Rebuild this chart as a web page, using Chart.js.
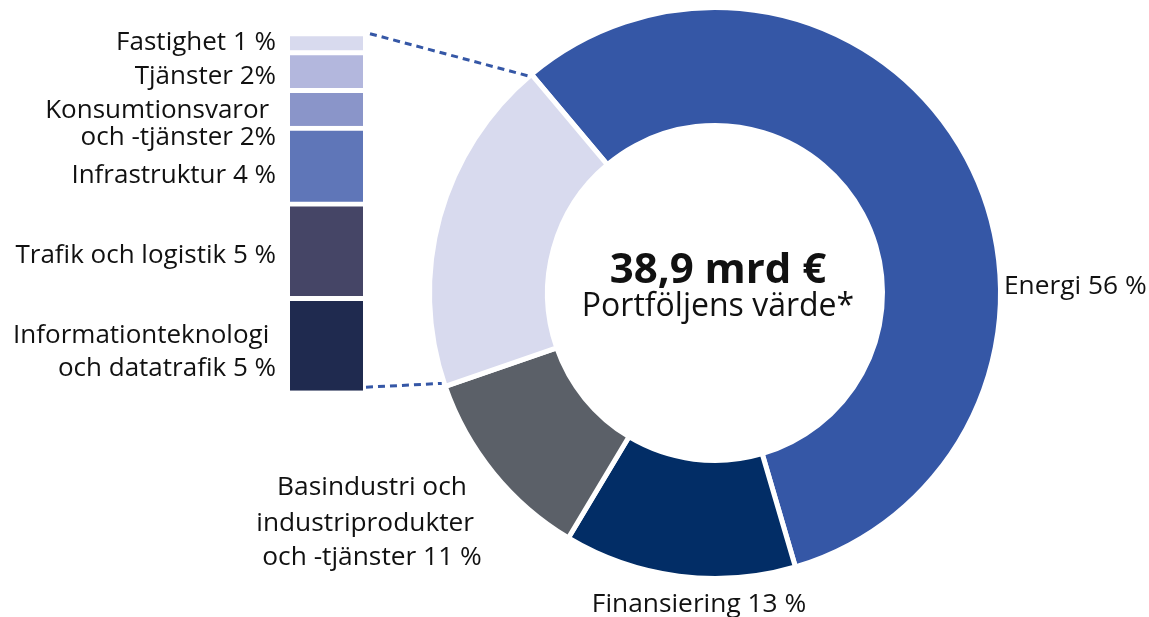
<!DOCTYPE html>
<html><head><meta charset="utf-8">
<script src="https://cdn.jsdelivr.net/npm/chart.js@4.4.1/dist/chart.umd.min.js"></script>
<style>
html,body{margin:0;padding:0;background:#fff;}
#wrap{position:relative;width:1149px;height:617px;overflow:hidden;}
canvas{position:absolute;left:0;top:0;}
</style></head><body>
<div id="wrap"><canvas id="donut" width="1149" height="617"></canvas><canvas id="stack" width="1149" height="617"></canvas></div>
<script>
// ---- data ----
const donutCategories = ['Energi', 'Finansiering', 'Basindustri och industriprodukter och -tjänster', 'Övriga'];
const donutValues = [56, 13, 11, 19];
const donutLabels = [['Energi 56 %'], ['Finansiering 13 %'], ['Basindustri och', 'industriprodukter  ', 'och -tjänster 11 %'], []];

const stackCategories = ['Informationteknologi och datatrafik', 'Trafik och logistik', 'Infrastruktur', 'Konsumtionsvaror och -tjänster', 'Tjänster', 'Fastighet'];
const stackValues = [5, 5, 4, 2, 2, 1];
const stackLabels = [['Informationteknologi ', 'och datatrafik 5 %'], ['Trafik och logistik 5 %'], ['Infrastruktur 4 %'], ['Konsumtionsvaror ', 'och -tjänster 2%'], ['Tjänster 2%'], ['Fastighet 1 %']];

const centerTitle = '38,9 mrd €';
const centerSubtitle = 'Portföljens värde*';

// ---- style ----
const donutColors = ['#3557A6', '#022D66', '#5B6068', '#D8DAEE'];
const stackColors = ['#1F2A4F', '#454566', '#5F76B8', '#8A95C9', '#B3B7DD', '#D8DAEE'];
const stackLabelBaselines = [[-3, 30.5], [11.8], [17], [8, 35.3], [12], [6]];
const FONT = '"Open Sans", "Noto Sans", sans-serif';
const TEXT = '#111';
const LINE = '#3557A6';

const donutText = {
  id: 'donutText',
  afterDatasetsDraw(chart) {
    const ctx = chart.ctx;
    const a0 = chart.getDatasetMeta(0).data[0];
    const cx = a0.x, cy = a0.y, R = a0.outerRadius - 2.5;
    ctx.save();
    ctx.fillStyle = TEXT;
    ctx.textBaseline = 'alphabetic';
    ctx.textAlign = 'center';
    ctx.font = 'bold 42px ' + FONT;
    ctx.fillText(centerTitle, cx + 3, cy - 10.3);
    ctx.font = '32px ' + FONT;
    ctx.fillText(centerSubtitle, cx + 3, cy + 23);
    ctx.font = '26.3px ' + FONT;
    // Energi
    ctx.textAlign = 'left';
    ctx.fillText(donutLabels[0][0], cx + R + 6, cy + 1.3);
    // Finansiering
    ctx.textAlign = 'center';
    ctx.fillText(donutLabels[1][0], cx - 16, cy + 319);
    // Basindustri
    const bl = [202, 237.7, 272];
    donutLabels[2].forEach((t, i) => ctx.fillText(t, cx - 343, cy + bl[i]));
    ctx.restore();
  }
};

const donutChart = new Chart(document.getElementById('donut'), {
  type: 'doughnut',
  data: {
    labels: donutCategories,
    datasets: [{
      data: donutValues,
      backgroundColor: donutColors,
      borderColor: '#ffffff',
      borderWidth: 5,
      hoverOffset: 0
    }]
  },
  options: {
    responsive: false,
    animation: false,
    rotation: -40,
    radius: 285.5,
    cutout: '58.67%',
    layout: { padding: { left: 432, right: 151, top: 10, bottom: 41 } },
    plugins: { legend: { display: false }, tooltip: { enabled: false } }
  },
  plugins: [donutText]
});

const stackText = {
  id: 'stackText',
  afterDatasetsDraw(chart) {
    const ctx = chart.ctx;
    ctx.save();
    ctx.fillStyle = TEXT;
    ctx.font = '26px ' + FONT;
    ctx.textAlign = 'right';
    ctx.textBaseline = 'alphabetic';
    let barLeft = 0, barRight = 0, topY = 0, bottomY = 0;
    stackLabels.forEach((lines, i) => {
      const el = chart.getDatasetMeta(i).data[0];
      const top = el.y + 5, base = el.base;
      const c = (top + base) / 2;
      barLeft = el.x - el.width / 2;
      barRight = el.x + el.width / 2;
      if (i === 0) bottomY = base;
      if (i === stackLabels.length - 1) topY = top;
      lines.forEach((t, j) => ctx.fillText(t, barLeft - 14, c + stackLabelBaselines[i][j]));
    });
    // connector lines to the "other" arc of the doughnut
    const arc = donutChart.getDatasetMeta(0).data[3];
    const R = arc.outerRadius - 2.5;
    const a1 = arc.endAngle - 0.009;
    const p1 = { x: arc.x + (R + 2) * Math.cos(a1), y: arc.y + (R + 2) * Math.sin(a1) };
    const a2 = arc.startAngle + 0.009;
    const c2 = { x: arc.x + R * Math.cos(a2), y: arc.y + R * Math.sin(a2) };
    const s2 = { x: barRight + 3, y: bottomY - 3.5 };
    const dx = s2.x - c2.x, dy = s2.y - c2.y, L = Math.hypot(dx, dy);
    const p2 = { x: c2.x + dx / L * 5, y: c2.y + dy / L * 5 };
    ctx.strokeStyle = LINE;
    ctx.lineWidth = 3;
    ctx.setLineDash([7, 5]);
    ctx.beginPath();
    ctx.moveTo(barRight + 7, topY - 3);
    ctx.lineTo(p1.x, p1.y);
    ctx.moveTo(s2.x, s2.y);
    ctx.lineTo(p2.x, p2.y);
    ctx.stroke();
    ctx.restore();
  }
};

new Chart(document.getElementById('stack'), {
  type: 'bar',
  data: {
    labels: [''],
    datasets: stackCategories.map((name, i) => ({
      label: name,
      data: [stackValues[i]],
      backgroundColor: stackColors[i],
      borderColor: '#ffffff',
      borderWidth: { top: 5, right: 0, bottom: 0, left: 0 },
      borderSkipped: false,
      barPercentage: 1,
      categoryPercentage: 1
    }))
  },
  options: {
    responsive: false,
    animation: false,
    layout: { padding: { left: 290, right: 786, top: 31.7, bottom: 226.3 } },
    scales: {
      x: { stacked: true, display: false },
      y: { stacked: true, display: false, min: 0, max: 19 }
    },
    plugins: { legend: { display: false }, tooltip: { enabled: false } }
  },
  plugins: [stackText]
});
</script>
</body></html>
